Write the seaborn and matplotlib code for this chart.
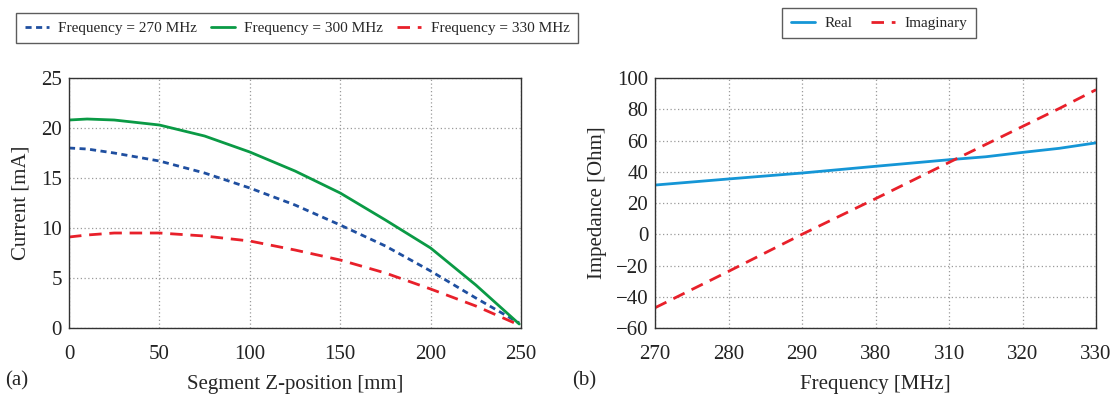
import matplotlib
matplotlib.use("Agg")
import matplotlib.pyplot as plt
import seaborn as sns
import pandas as pd

# Current distribution along the segment
z_mm = [0, 10, 25, 50, 75, 100, 125, 150, 175, 200, 225, 249]
i_270 = [18.0, 17.9, 17.5, 16.7, 15.5, 14.0, 12.3, 10.3, 8.2, 5.7, 3.0, 0.5]
i_300 = [20.8, 20.9, 20.8, 20.3, 19.2, 17.6, 15.7, 13.5, 10.8, 8.0, 4.3, 0.4]
i_330 = [9.1, 9.3, 9.5, 9.5, 9.2, 8.7, 7.8, 6.8, 5.5, 3.9, 2.2, 0.3]

# Input impedance versus frequency
freq_mhz = [270, 280, 290, 300, 310, 315, 320, 325, 330]
z_real = [31.5, 35.4, 39.2, 43.5, 47.7, 49.6, 52.4, 55.0, 58.5]
z_imag = [-47.0, -23.7, 0.0, 22.8, 46.0, 57.5, 69.0, 80.5, 92.5]

freq_ticks = [270, 280, 290, 300, 310, 320, 330]
freq_tick_labels = ["270", "280", "290", "380", "310", "320", "330"]

sns.set_style("white")
plt.rcParams["font.family"] = ["Liberation Serif", "DejaVu Serif"]

fig = plt.figure(figsize=(11.2, 3.94), dpi=100)
ax1 = fig.add_axes([0.0616, 0.1675, 0.4036, 0.6345])
ax2 = fig.add_axes([0.585, 0.1675, 0.3936, 0.6345])

BLUE_DARK = "#1f4fa0"
GREEN = "#0a9a45"
RED = "#e8202a"
BLUE_LIGHT = "#1596d6"
LW = 2.0

current = pd.DataFrame({"z": z_mm, "f270": i_270, "f300": i_300, "f330": i_330})
sns.lineplot(data=current, x="z", y="f270", ax=ax1, color=BLUE_DARK, lw=LW,
             linestyle=(0, (2.2, 1.6)), label="Frequency = 270 MHz")
sns.lineplot(data=current, x="z", y="f300", ax=ax1, color=GREEN, lw=LW,
             linestyle="-", label="Frequency = 300 MHz")
sns.lineplot(data=current, x="z", y="f330", ax=ax1, color=RED, lw=LW,
             linestyle=(0, (4.5, 2.8)), label="Frequency = 330 MHz")

imp = pd.DataFrame({"f": freq_mhz, "re": z_real, "im": z_imag})
sns.lineplot(data=imp, x="f", y="re", ax=ax2, color=BLUE_LIGHT, lw=LW,
             linestyle="-", label="Real")
sns.lineplot(data=imp, x="f", y="im", ax=ax2, color=RED, lw=LW,
             linestyle=(0, (4.5, 2.8)), label="Imaginary")

TICK_FS = 15
LABEL_FS = 15

ax1.set_xlim(0, 250)
ax1.set_ylim(0, 25)
ax1.set_xticks([0, 50, 100, 150, 200, 250])
ax1.set_yticks([0, 5, 10, 15, 20, 25])
ax1.set_xlabel("Segment Z-position [mm]", fontsize=LABEL_FS, labelpad=8)
ax1.set_ylabel("Current [mA]", fontsize=LABEL_FS, labelpad=8)

ax2.set_xlim(270, 330)
ax2.set_ylim(-60, 100)
ax2.set_xticks(freq_ticks)
ax2.set_xticklabels(freq_tick_labels)
ax2.set_yticks(list(range(-60, 101, 20)))
ax2.set_xlabel("Frequency [MHz]", fontsize=LABEL_FS, labelpad=8)
ax2.set_ylabel("Impedance [Ohm]", fontsize=LABEL_FS, labelpad=6)

for ax in (ax1, ax2):
    ax.grid(True, color="#9a9a9a", linestyle=(0, (1, 2)), linewidth=0.9)
    ax.set_axisbelow(True)
    ax.tick_params(axis="both", labelsize=TICK_FS, length=0, colors="#222222")
    ax.tick_params(axis="x", pad=12)
    ax.tick_params(axis="y", pad=5)
    for s in ax.spines.values():
        s.set_visible(True)
        s.set_color("#333333")
        s.set_linewidth(1.0)
    if ax.get_legend() is not None:
        ax.get_legend().remove()

leg_kw = dict(fontsize=11, frameon=True, fancybox=False, edgecolor="#333333",
              handlelength=1.6, handletextpad=0.6, borderpad=0.55,
              borderaxespad=0)
h1, l1 = ax1.get_legend_handles_labels()
leg1 = fig.legend(h1, l1, loc="center", bbox_to_anchor=(297 / 1120, 1 - 28 / 394),
                  ncol=3, columnspacing=0.9, **leg_kw)
leg1.get_frame().set_linewidth(1.0)
h2, l2 = ax2.get_legend_handles_labels()
leg2 = fig.legend(h2, l2, loc="center", bbox_to_anchor=(879 / 1120, 1 - 23 / 394),
                  ncol=2, columnspacing=1.2, **leg_kw)
leg2.get_frame().set_linewidth(1.0)

fig.text(5 / 1120, 1 - 381 / 394, "(a)", fontsize=LABEL_FS, va="center", ha="left")
fig.text(572 / 1120, 1 - 381 / 394, "(b)", fontsize=LABEL_FS, va="center", ha="left")

fig.savefig("out.png", dpi=100)
